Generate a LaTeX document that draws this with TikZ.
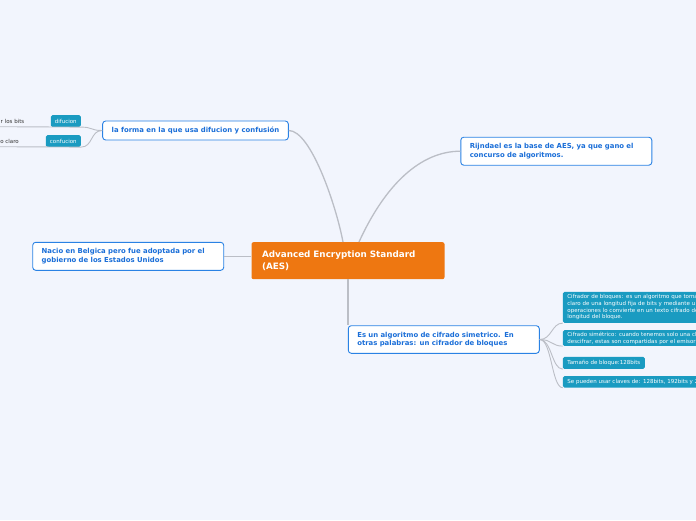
\documentclass[tikz,border=0pt]{standalone}
\usepackage{fontspec}
\setmainfont{DejaVu Sans}
\definecolor{bgc}{HTML}{F2F5FD}
\definecolor{aesorange}{HTML}{EE7711}
\definecolor{topicborder}{HTML}{2A82E4}
\definecolor{topictext}{HTML}{1A6ED8}
\definecolor{leafteal}{HTML}{1A9BC1}
\definecolor{linkgray}{HTML}{BBBEC6}
\definecolor{plaintext}{HTML}{333333}
\begin{document}
\begin{tikzpicture}[x=1pt,y=-1pt,
 mainbox/.style={fill=aesorange, rounded corners=2pt, text=white, font=\bfseries\fontsize{8.8}{11.7}\selectfont, align=left, inner xsep=10.5pt, inner ysep=0pt, minimum height=37pt, text width=172pt},
 topic/.style={fill=white, draw=topicborder, line width=0.9pt, rounded corners=3pt, text=topictext, font=\bfseries\fontsize{6.9}{8.4}\selectfont, align=left, inner xsep=9pt, inner ysep=0pt},
 leaf/.style={fill=leafteal, rounded corners=1.5pt, text=white, font=\fontsize{5.5}{6.7}\selectfont, inner xsep=4.5pt, inner ysep=0pt},
 plain/.style={text=plaintext, font=\fontsize{5.5}{6.7}\selectfont, inner sep=0pt},
 link/.style={draw=linkgray, line width=1.3pt},
 sublink/.style={draw=linkgray, line width=0.9pt}]
\useasboundingbox (0,0) rectangle (696,520);
\fill[bgc] (0,0) rectangle (696,520);

% nodes
\node[mainbox] (aes) at (348,260.7) {Advanced Encryption Standard\\(AES)};
\node[topic, minimum width=185pt, minimum height=19pt] (forma) at (195.5,130.5) {la forma en la que usa difucion y confusión};
\node[topic, text width=173pt, minimum height=28pt] (rij) at (556.3,151.2) {Rijndael es la base de AES, ya que gano el\\concurso de algoritmos.};
\node[topic, text width=173pt, minimum height=28pt] (nacio) at (128.2,256.3) {Nacio en Belgica pero fue adoptada por el\\gobierno de los Estados Unidos};
\node[topic, text width=173pt, minimum height=27.6pt] (es) at (443.8,339.5) {Es un algoritmo de cifrado simetrico. En\\otras palabras: un cifrador de bloques};

\node[leaf, anchor=north west, minimum height=31pt, text width=220pt, align=left] (l1) at (562.7,291.7) {Cifrador de bloques: es un algoritmo que toma\\claro de una longitud fija de bits y mediante u\\operaciones lo convierte en un texto cifrado de\\longitud del bloque.};
\node[leaf, anchor=north west, minimum height=15.7pt, text width=220pt, align=left] (l2) at (562.7,330) {Cifrado simétrico: cuando tenemos solo una cl\\descifrar, estas son compartidas por el emisor};
\node[leaf, anchor=north west, minimum height=12pt, minimum width=81.6pt] (l3) at (562.7,356.7) {Tamaño de bloque:128bits};
\node[leaf, anchor=north west, minimum height=11.3pt, text width=220pt, align=left] (l4) at (562.7,376) {Se pueden usar claves de: 128bits, 192bits y 2};

\node[leaf, anchor=north east, minimum height=11.7pt, minimum width=30pt, inner xsep=2pt] (dif) at (81,115) {difucion};
\node[leaf, anchor=north east, minimum height=11.7pt, minimum width=35pt, inner xsep=2pt] (conf) at (81,135) {confucion};
\node[plain, anchor=east] (dift) at (24.5,121) {r los bits};
\node[plain, anchor=east] (conft) at (19,141.5) {o claro};
\coordinate (e1) at (-3,126.7);
\coordinate (e2) at (-3,146.7);

% connectors
\draw[link] (forma.east) .. controls +(22,0) and +(-7,-37) .. ([xshift=-5pt]aes.north);
\draw[link] ([xshift=11pt]aes.north) .. controls +(26,-57) and +(-40,0) .. (rij.west);
\draw[link] (aes.west |- nacio.east) -- (nacio.east);
\draw[link] (aes.south) -- (aes.south |- es.north);
\foreach \l in {l1,l2,l3,l4}
  \draw[sublink] (es.east) .. controls +(12,0) and +(-11,0) .. (\l.south west);
\draw[sublink] (forma.west) .. controls +(-12,0) and +(12,0) .. (dif.south east) -- (e1);
\draw[sublink] (forma.west) .. controls +(-12,0) and +(12,0) .. (conf.south east) -- (e2);
\end{tikzpicture}
\end{document}
